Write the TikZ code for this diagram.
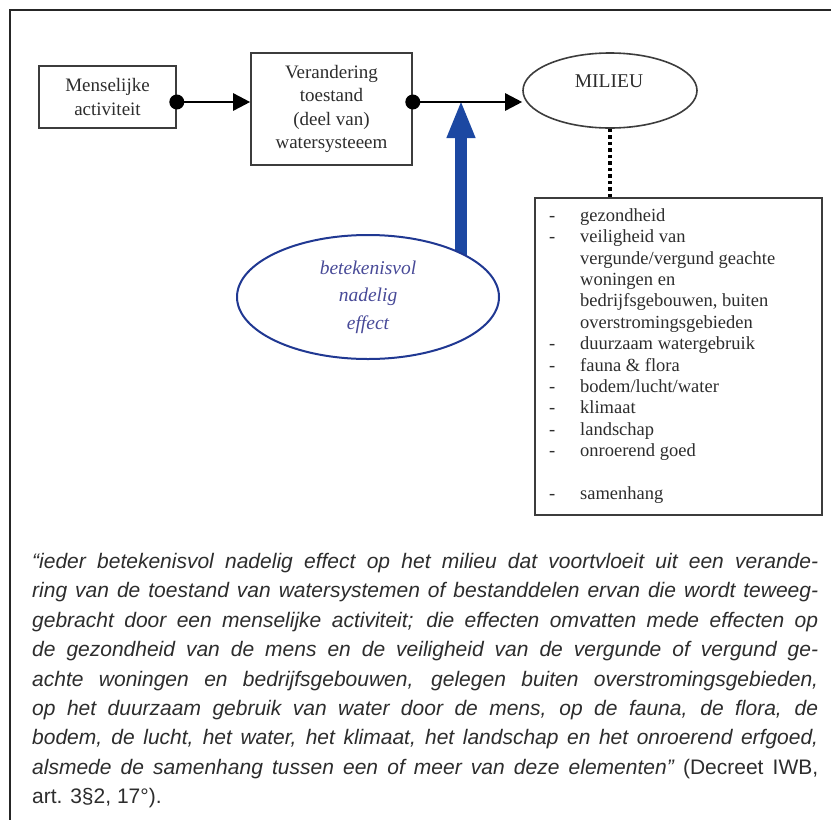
\documentclass[tikz,border=0pt]{standalone}
\usepackage{fontspec}
\setmainfont{Liberation Serif}
\newfontfamily\quotefont{Liberation Sans}
\usetikzlibrary{shapes.geometric,arrows.meta}
\definecolor{ink}{RGB}{45,45,45}
\definecolor{boxline}{RGB}{60,60,60}
\definecolor{bluearrow}{RGB}{28,72,162}
\definecolor{blueline}{RGB}{32,56,146}
\definecolor{bluetext}{RGB}{72,74,152}
\pgfdeclarelayer{back}
\pgfsetlayers{back,main}
\tikzset{
  frameline/.style={draw=black!85, line width=2.5pt},
  stepbox/.style={draw=boxline, line width=1.6pt, fill=white, rectangle, align=center,
    text=ink, inner sep=0pt, font=\fontsize{19}{23.6}\selectfont},
  ovalnode/.style={ellipse, draw=boxline, line width=1.6pt, fill=white, inner sep=0pt},
  conn/.style={draw=black, line width=2.6pt, -{Triangle[length=17pt,width=17pt]}},
  dotend/.style={fill=black},
  bluearr/.style={draw=bluearrow, line width=12pt, -{Triangle[length=38pt,width=26pt]}},
  dotline/.style={draw=black, line width=4pt, dash pattern=on 3.5pt off 3pt},
}
\begin{document}
\begin{tikzpicture}[x=1pt,y=-1pt]
\useasboundingbox (0,0) rectangle (831,820);
\begin{pgfonlayer}{back}
\fill[white] (0,0) rectangle (831,820);
\end{pgfonlayer}
% outer frame (right and bottom edges fall outside the picture)
\draw[frameline] (835,10) -- (10,10) -- (10,825);

% nodes
\node[stepbox, minimum width=137pt, minimum height=62pt] (ma) at (107.5,97) {Menselijke\\activiteit};
\node[stepbox, minimum width=161pt, minimum height=112pt] (vt) at (331.5,109) {Verandering\\toestand\\(deel van)\\watersysteeem};
\node[ovalnode, minimum width=174pt, minimum height=75pt] (mil) at (610,90.5) {};
\node[text=ink, font=\fontsize{19.5}{23}\selectfont, inner sep=0pt] (milt) at (609,81) {MILIEU};

\node[ellipse, draw=blueline, line width=2pt, fill=white, inner sep=0pt,
      minimum width=262pt, minimum height=124pt, align=center, text=bluetext,
      font=\itshape\fontsize{19.5}{27.5}\selectfont] (be) at (368,297) {betekenisvol\\nadelig\\effect};

\node[draw=boxline, line width=1.6pt, minimum width=287pt, minimum height=317pt, inner sep=0pt] (lb) at (678.5,356.5) {};
\node[anchor=north west, inner sep=0pt, align=left, text=ink,
      font=\fontsize{18.5}{21.36}\selectfont] (lt) at (549,208.5) {%
\makebox[31pt][l]{-}gezondheid\\
\makebox[31pt][l]{-}veiligheid van\\
\hspace*{31pt}vergunde/vergund geachte\\
\hspace*{31pt}woningen en\\
\hspace*{31pt}bedrijfsgebouwen, buiten\\
\hspace*{31pt}overstromingsgebieden\\
\makebox[31pt][l]{-}duurzaam watergebruik\\
\makebox[31pt][l]{-}fauna \& flora\\
\makebox[31pt][l]{-}bodem/lucht/water\\
\makebox[31pt][l]{-}klimaat\\
\makebox[31pt][l]{-}landschap\\
\makebox[31pt][l]{-}onroerend goed\\
\mbox{}\\
\makebox[31pt][l]{-}samenhang};

% connectors
\coordinate (s1) at ([yshift=-5pt]ma.east);
\coordinate (e1) at ([yshift=7pt]vt.west);
\coordinate (s2) at ([yshift=7pt]vt.east);
\coordinate (e2) at ([yshift=-11.5pt]mil.west);
\coordinate (jn) at (461,100);
\begin{pgfonlayer}{back}
\draw[bluearr] (be.center -| jn) -- (jn);
\end{pgfonlayer}
\draw[conn] (s1) -- (e1);
\draw[conn] (s2) -- (e2);
\fill[dotend] (s1) circle (7.5pt);
\fill[dotend] (s2) circle (7.5pt);
\draw[dotline] (mil.south) -- (mil.south |- lb.north);

% quotation
\node[anchor=north west, inner sep=0pt, text width=786pt, align=justify, text=ink,
      font=\quotefont\itshape\fontsize{21}{29.4}\selectfont] (qt) at (32,553) {%
“ieder betekenisvol nadelig effect op het milieu dat voortvloeit uit een verande-\linebreak
ring van de toestand van watersystemen of bestanddelen ervan die wordt teweeg-\linebreak
gebracht door een menselijke activiteit; die effecten omvatten mede effecten op\linebreak
de gezondheid van de mens en de veiligheid van de vergunde of vergund ge-\linebreak
achte woningen en bedrijfsgebouwen, gelegen buiten overstromingsgebieden,\linebreak
op het duurzaam gebruik van water door de mens, op de fauna, de flora, de\linebreak
bodem, de lucht, het water, het klimaat, het landschap en het onroerend erfgoed,\linebreak
alsmede de samenhang tussen een of meer van deze elementen” {\upshape(Decreet IWB,}\linebreak
{\upshape art. 3§2, 17°).}};
\end{tikzpicture}
\end{document}
